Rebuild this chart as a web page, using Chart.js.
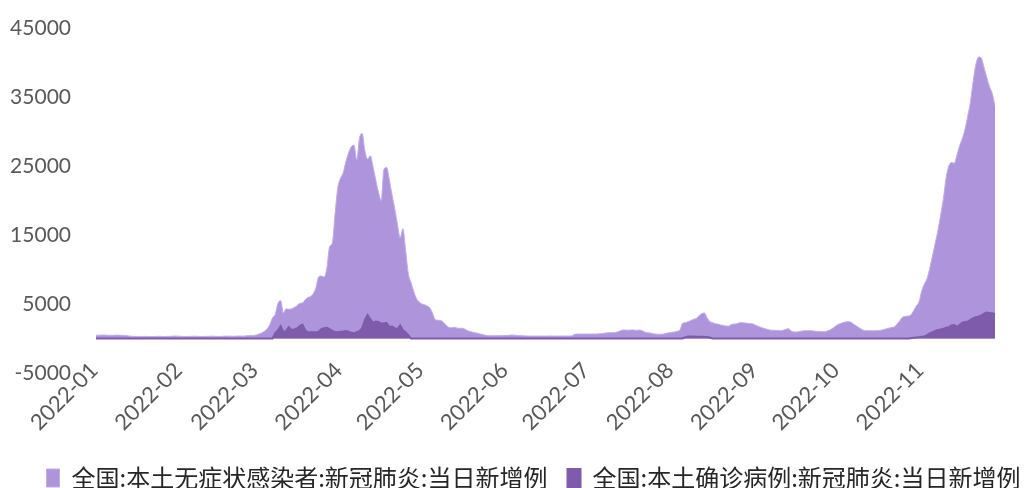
<!DOCTYPE html>
<html><head><meta charset="utf-8">
<script src="https://cdn.jsdelivr.net/npm/chart.js@4.4.0/dist/chart.umd.min.js"></script>
<style>html,body{margin:0;padding:0;background:#fff;} #wrap{width:1025px;height:488px;position:relative;}</style>
</head><body><div id="wrap"><canvas id="c" width="1025" height="488"></canvas></div>
<script>
const monthLabels = ['2022-01','2022-02','2022-03','2022-04','2022-05','2022-06','2022-07','2022-08','2022-09','2022-10','2022-11'];
const monthDays = [31,28,31,30,31,30,31,31,30,31,28];
const seriesNames = ['全国:本土无症状感染者:新冠肺炎:当日新增例','全国:本土确诊病例:新冠肺炎:当日新增例'];
const yTickValues = [-5000,5000,15000,25000,35000,45000];

// 全国:本土无症状感染者 (daily)
const asymptomatic = [
 480,470,490,500,480,470,460,480,490,470,450,430,380,330,310,300,290,300,310,300,290,280,300,320,310,290,300,310,330,360,340,
 320,300,290,300,310,330,320,300,290,300,310,320,340,320,300,310,330,350,340,330,320,350,360,340,380,400,420,450,
 500,650,800,1050,1400,2000,3000,3500,5100,5480,3700,4300,4250,4300,4500,4750,5100,5150,5600,5950,6100,6500,7400,8960,9060,8900,10200,13300,13800,18000,21800,
 23200,24000,25600,26900,27800,28000,25900,29000,29700,27200,26000,26500,24900,23000,21200,20000,24500,24800,23000,20800,18800,16500,14600,15900,12800,9400,8100,6800,5800,5300,
 5000,4900,4700,4400,3600,2700,2650,2600,2300,1900,1600,1550,1620,1500,1480,1480,1300,1100,1000,880,800,700,600,500,420,410,400,410,400,410,420,
 430,460,500,480,450,420,400,380,370,360,360,350,360,360,350,360,370,360,350,360,360,370,360,360,380,550,650,650,650,650,
 650,650,650,650,680,700,760,820,840,850,880,950,1100,1230,1230,1200,1230,1240,1180,1230,1150,950,840,800,700,650,620,620,650,750,840,
 900,950,1050,1250,2200,2300,2440,2600,2780,2900,3300,3600,3700,3000,2450,2300,2150,2100,1950,1900,1810,1800,2050,2100,2150,2290,2300,2250,2200,2150,2100,
 1900,1750,1600,1450,1350,1240,1200,1180,1150,1130,1200,1350,1420,1100,950,950,1000,1100,1130,1130,1130,1100,1050,1000,990,990,1050,1200,1400,1700,
 2000,2150,2300,2400,2440,2350,2050,1810,1550,1300,1150,1130,1130,1130,1130,1150,1200,1300,1420,1500,1600,1700,2100,2600,3100,3200,3250,3400,4000,4700,5300,
 6900,7900,8700,10200,12000,13800,15700,17900,20300,23300,25000,25500,25400,26600,28000,29000,30400,32300,34400,37400,39800,40800,40600,39200,37800,36500,35500,33700
];

// 全国:本土确诊病例 (daily)
const confirmed = [
 0,0,0,0,0,0,0,0,0,0,0,0,0,0,0,0,0,0,0,0,0,0,0,0,0,0,0,0,0,0,0,
 0,0,0,0,0,0,0,0,0,0,0,0,0,0,0,0,0,0,0,0,0,0,0,0,0,0,0,0,
 0,0,0,0,0,0,0,800,1200,1800,900,1100,1650,1250,1300,1450,1800,2000,1200,900,890,890,890,1000,1350,1500,1550,1350,1100,950,900,
 990,1000,1090,1000,850,750,900,1050,1500,2700,3400,2800,2300,2450,2400,2150,2200,2250,1700,1750,1500,1350,1900,1200,900,500,0,0,0,0,
 0,0,0,0,0,0,0,0,0,0,0,0,0,0,0,0,0,0,0,0,0,0,0,0,0,0,0,0,0,0,0,
 0,0,0,0,0,0,0,0,0,0,0,0,0,0,0,0,0,0,0,0,0,0,0,0,0,0,0,0,0,0,
 0,0,0,0,0,0,0,0,0,0,0,0,0,0,0,0,0,0,0,0,0,0,0,0,0,0,0,0,0,0,0,
 0,0,0,0,0,200,300,300,280,260,250,250,220,200,150,0,0,0,0,0,0,0,0,0,0,0,0,0,0,0,0,
 0,0,0,0,0,0,0,0,0,0,0,0,0,0,0,0,0,0,0,0,0,0,0,0,0,0,0,0,0,0,
 0,0,0,0,0,0,0,0,0,0,0,0,0,0,0,0,0,0,0,0,0,0,0,0,0,0,0,50,100,150,200,
 250,300,500,750,900,1100,1230,1300,1400,1550,1650,1900,1950,1700,2000,2300,2400,2450,2700,2950,3100,3200,3350,3600,3750,3700,3650,3550
];

const categories = [];
monthLabels.forEach((m, i) => {
  for (let d = 1; d <= monthDays[i]; d++) categories.push(m + '-' + String(d).padStart(2, '0'));
});

// shift the legend row so that it sits where the reference places it
const legendShift = {
  id: 'legendShift',
  afterLayout(chart) {
    const lg = chart.legend;
    if (lg) { lg.left += 21; lg.right += 21; }
  }
};

new Chart(document.getElementById('c'), {
  type: 'line',
  data: {
    labels: categories,
    datasets: [
      { label: seriesNames[0], data: asymptomatic, backgroundColor: '#ae94db', borderColor: '#c2aee6', borderWidth: 1,
        fill: 'origin', pointRadius: 0, cubicInterpolationMode: 'monotone', tension: 0.3, order: 1 },
      { label: seriesNames[1], data: confirmed, backgroundColor: '#7e5cab', borderColor: '#7e5cab', borderWidth: 2,
        fill: 'origin', pointRadius: 0, order: 0 }
    ]
  },
  plugins: [legendShift],
  options: {
    responsive: false,
    animation: false,
    layout: { padding: { left: 0, right: 0, top: 28, bottom: -12 } },
    plugins: {
      tooltip: { enabled: false },
      legend: {
        position: 'bottom',
        labels: {
          sort: (a, b) => a.datasetIndex - b.datasetIndex,
          boxWidth: 13, boxHeight: 18, padding: 20, color: '#262626',
          font: { family: '"Noto Sans CJK SC"', size: 24 }
        }
      }
    },
    scales: {
      x: {
        grid: { display: false, drawTicks: false },
        border: { display: false },
        ticks: {
          autoSkip: false, maxRotation: 45, minRotation: 45,
          mirror: true, labelOffset: 17, padding: -3,
          color: '#595959', font: { family: 'Lato', size: 22 },
          callback: function (v, i) {
            const lab = categories[i];
            return lab.endsWith('-01') ? lab.slice(0, 7) : null;
          }
        },
        afterFit: (s) => { s.height = 73; }
      },
      y: {
        min: -5000, max: 45000,
        grid: { display: false, drawTicks: false },
        border: { display: false },
        afterBuildTicks: (s) => { s.ticks = yTickValues.map(v => ({ value: v })); },
        ticks: { padding: 25, color: '#595959', font: { family: 'Lato', size: 21 }, callback: (v) => String(v) },
        afterFit: (s) => { s.width = 96; s.paddingTop = 0; s.paddingBottom = 0; }
      },
      yRight: {
        position: 'right',
        grid: { display: false, drawTicks: false },
        border: { display: false },
        ticks: { display: false },
        afterFit: (s) => { s.width = 30; }
      }
    }
  }
});
</script>
</body></html>
